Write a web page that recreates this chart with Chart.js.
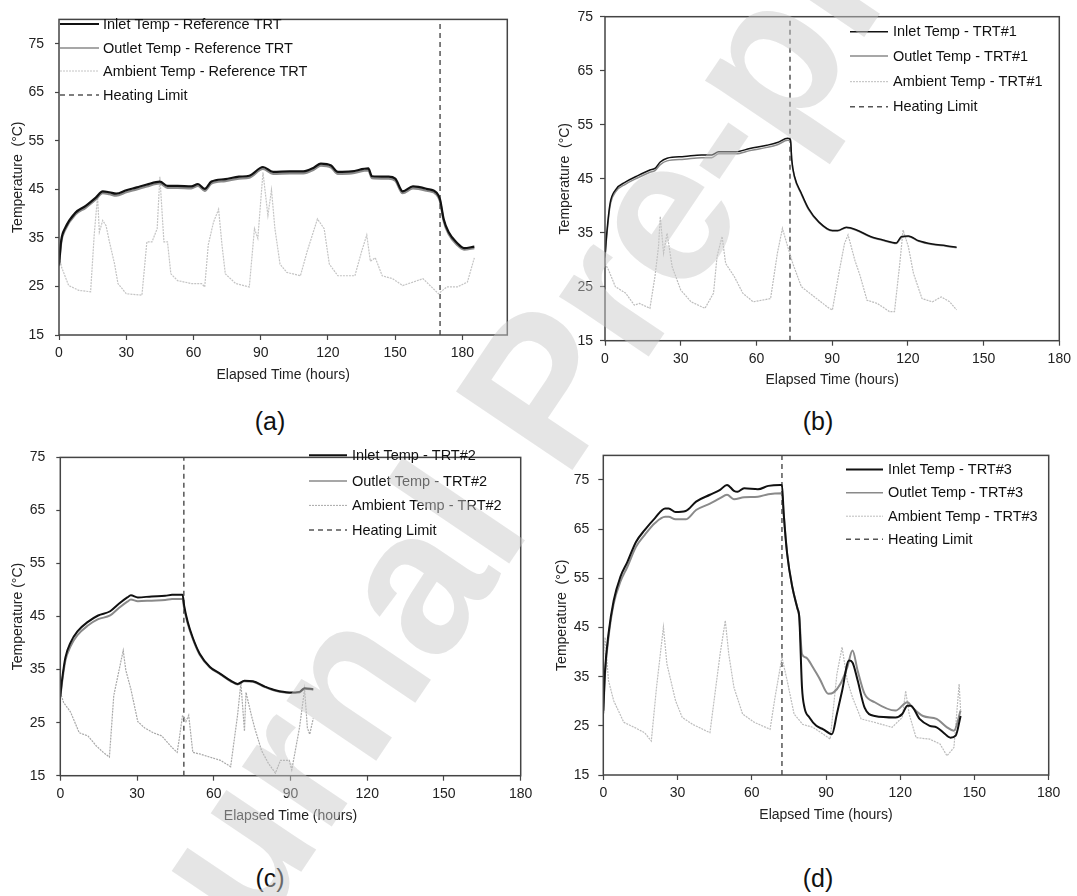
<!DOCTYPE html>
<html>
<head>
<meta charset="utf-8">
<script src="https://cdn.jsdelivr.net/npm/chart.js@4.4.1/dist/chart.umd.min.js"></script>
<style>
  body { margin: 0; background: #fff; width: 1077px; height: 896px; position: relative; overflow: hidden;
         font-family: "Liberation Sans", Arial, sans-serif; }
  canvas { position: absolute; }
  .cap { position: absolute; width: 60px; text-align: center; font-size: 25px; color: #111; line-height: 29px; }
  #wm { position: absolute; left: 0; top: 0; pointer-events: none; }
</style>
</head>
<body>
<canvas id="chartA" width="538" height="400" style="left:0;top:0"></canvas>
<canvas id="chartB" width="539" height="400" style="left:538px;top:0"></canvas>
<canvas id="chartC" width="538" height="400" style="left:0;top:438px"></canvas>
<canvas id="chartD" width="539" height="400" style="left:538px;top:438px"></canvas>
<div class="cap" style="left:240px;top:407px">(a)</div>
<div class="cap" style="left:788px;top:407px">(b)</div>
<div class="cap" style="left:240px;top:864px">(c)</div>
<div class="cap" style="left:788px;top:864px">(d)</div>
<svg id="wm" width="1077" height="896">
  <text x="121" y="1139" transform="rotate(-56 121 1139)" font-family="Liberation Sans, Arial, sans-serif"
        font-weight="bold" font-size="204" fill="rgb(200,200,200)" fill-opacity="0.48">Journal Pre-proof</text>
</svg>
<script>
// tick labels shared by every panel
const xTickValues = [0, 30, 60, 90, 120, 150, 180];
const yTickValues = [15, 25, 35, 45, 55, 65, 75];
const heatingLimitHours = [170, 73.3, 48.3, 72.2];

// (a) Reference TRT
const aTime = [0, 1, 2.7, 7.3, 11.9, 16.4, 19.5, 22.5, 25.5, 30, 34.7, 39.2, 45, 48.4, 52.9, 59, 62, 65, 68, 74.2, 80.3, 84.9, 91, 95.5, 103, 109, 113.8, 116.8, 121.4, 124.4, 130.5, 138, 139.6, 147, 150, 153.3, 157.9, 164, 168.5, 170, 171.6, 173.8, 177.7, 180.7, 185.3];
const aInlet = [29.5, 34.5, 37, 40.2, 41.6, 43.3, 44.6, 44.4, 44.1, 44.8, 45.4, 46, 46.6, 45.7, 45.7, 45.6, 46.1, 45.1, 46.6, 47.1, 47.6, 47.8, 49.6, 48.6, 48.7, 48.7, 49.5, 50.3, 49.9, 48.6, 48.7, 49.3, 47.7, 47.6, 47.2, 44.6, 45.6, 45.1, 44.3, 42.9, 38.9, 36.2, 33.9, 32.9, 33.2];
const aOutlet = [29.2, 34.1, 36.6, 39.8, 41.2, 42.9, 44.2, 44.0, 43.7, 44.4, 45.0, 45.6, 46.2, 45.3, 45.3, 45.2, 45.7, 44.7, 46.2, 46.7, 47.2, 47.4, 49.2, 48.2, 48.3, 48.3, 49.1, 49.9, 49.5, 48.2, 48.3, 48.9, 47.3, 47.2, 46.8, 44.2, 45.2, 44.7, 43.9, 42.5, 38.5, 35.8, 33.5, 32.6, 32.9];
const aAmbTime = [0, 1.2, 4.3, 8.8, 14.1, 15.7, 17.2, 18, 19.5, 21, 22.5, 24.8, 26.3, 30, 37, 39.2, 41.5, 43.8, 45, 46.8, 48.4, 49.9, 52.9, 59, 63.6, 65, 66.6, 68.9, 71.2, 72.7, 74.2, 78.8, 84.9, 87.2, 88.7, 91, 93.2, 94.8, 96.3, 98.6, 101.6, 107.7, 110.7, 115.3, 118.3, 120.6, 124.4, 132, 135, 137.3, 138.9, 141.1, 144.2, 148.8, 153.3, 158, 162.4, 165.5, 169.3, 173, 177.7, 182.2, 185.3];
const aAmbient = [31.5, 28.9, 25.2, 24.2, 23.9, 35.6, 43.6, 36.2, 38.6, 37.5, 34.2, 29.6, 25.6, 23.5, 23.2, 34.2, 34.2, 36.9, 47.6, 34.2, 34.2, 27.6, 26.2, 25.6, 25.6, 24.9, 33.6, 38.2, 40.9, 33.6, 27.6, 25.6, 24.9, 36.9, 34.9, 48.5, 39.6, 44.9, 37.0, 29.6, 27.9, 27.2, 32.2, 38.9, 36.9, 29.6, 27.2, 27.2, 32.2, 35.6, 30.2, 30.9, 27.2, 26.6, 25.2, 25.9, 26.6, 25.2, 23.5, 24.9, 24.9, 25.9, 30.9];
const aLabels = ["Inlet Temp - Reference TRT", "Outlet Temp - Reference TRT", "Ambient Temp - Reference TRT", "Heating Limit"];

// (b) TRT#1
const bTime = [0, 0.7, 2, 4.1, 8.2, 12.3, 17.8, 19.8, 21.9, 24.6, 31.4, 38.2, 42.3, 45, 51.9, 57.4, 64.2, 68.3, 72.4, 73.5, 74, 75.1, 77.8, 80.6, 84.7, 90.1, 92.2, 95.6, 99.7, 105.2, 110.6, 115.4, 117.5, 120.2, 124.3, 129.7, 135.2, 139.3];
const bInlet = [30.6, 34.9, 40.4, 42.9, 44.4, 45.4, 46.6, 46.9, 48.1, 48.8, 49.1, 49.4, 49.4, 50, 50, 50.6, 51.2, 51.7, 52.5, 52.2, 48.5, 45.4, 42.3, 39.5, 37, 35.4, 35.4, 36, 35.5, 34.3, 33.6, 33.1, 34.3, 34.4, 33.5, 32.9, 32.6, 32.3];
const bOutlet = [30.3, 34.4, 39.9, 42.5, 44.0, 45.0, 46.2, 46.5, 47.6, 48.3, 48.6, 48.9, 48.9, 49.6, 49.6, 50.2, 50.8, 51.3, 52.1, 51.9, 48.3, 45.2, 42.1, 39.3, 36.9, 35.3, 35.3, 35.9, 35.4, 34.2, 33.5, 33.0, 34.1, 34.3, 33.4, 32.8, 32.5, 32.2];
const bAmbTime = [0, 1.4, 4.1, 8.2, 11.6, 13.7, 17.8, 19.8, 21.2, 21.9, 23.2, 24.6, 26.6, 30, 34.1, 39.6, 43, 44.4, 46.4, 47.8, 51.2, 54.6, 58.7, 65.6, 68.3, 70.3, 72.4, 74.4, 77.8, 81.9, 88.8, 90.1, 92.9, 94.9, 96.3, 99, 101.1, 103.8, 107.9, 112.7, 114.7, 116.8, 118.1, 120.2, 122.2, 125.6, 129.7, 133.2, 136.6, 139.3];
const bAmbient = [29.3, 28.1, 25, 23.8, 21.6, 21.9, 21, 26.9, 32.4, 38, 31.2, 34.9, 28.7, 24.4, 22.2, 21, 23.8, 30.6, 34.3, 29.3, 26.9, 23.8, 22.2, 22.8, 31.2, 35.8, 32.4, 29.3, 25, 23.5, 21, 20.7, 28.1, 33, 34.6, 29.9, 27, 22.5, 21.9, 20.4, 20.4, 29.3, 35.5, 32.4, 27.5, 22.8, 22.2, 23.1, 22.2, 20.7];
const bLabels = ["Inlet Temp - TRT#1", "Outlet Temp - TRT#1", "Ambient Temp - TRT#1", "Heating Limit"];

// (c) TRT#2
const cTime = [0, 0.7, 2, 4, 6.7, 10.8, 14.8, 19.5, 22.9, 26.2, 27.6, 30.3, 35.7, 41, 43.7, 47.8, 48.4, 49.8, 51.8, 54.5, 58.5, 62.6, 66.6, 69.3, 72, 75.3, 80, 84.1, 89.5, 93.5, 95.5, 98.9];
const cInlet = [30, 33.1, 37.3, 40.1, 42.2, 44, 45.2, 46, 47.4, 48.6, 49, 48.6, 48.8, 48.9, 49.1, 49.1, 47.1, 44, 41, 38, 35.5, 34.2, 32.9, 32.3, 32.9, 32.8, 31.8, 31.1, 30.7, 30.8, 31.5, 31.3];
const cOutlet = [29.7, 32.6, 36.7, 39.4, 41.5, 43.3, 44.5, 45.2, 46.6, 47.8, 48.2, 47.9, 48.0, 48.1, 48.3, 48.3, 46.6, 43.7, 40.8, 37.8, 35.4, 34.1, 32.8, 32.2, 32.8, 32.7, 31.7, 31.0, 30.6, 30.7, 31.4, 31.2];
const cAmbTime = [0, 1.3, 4, 7.4, 10.8, 14.1, 16.8, 19.2, 20.9, 23.5, 24.6, 25.6, 27.6, 30.3, 33, 36.3, 39.7, 43.7, 45.7, 46.4, 47.8, 49.1, 50.2, 51.8, 54.5, 58.5, 62.6, 66.6, 69.3, 70.6, 72, 72.6, 74.7, 76, 78.7, 81.4, 84.1, 86.1, 89.5, 90.5, 93.5, 95.5, 96.6, 97.5, 98.9];
const cAmbient = [30.7, 28.8, 27, 23.1, 22.5, 20.6, 19.4, 18.5, 30.1, 36.1, 38.6, 34.9, 31.3, 25.2, 24, 23.1, 22.5, 20.3, 19.4, 21.6, 26.4, 25.2, 26.4, 19.4, 19.1, 18.5, 17.9, 16.7, 26.4, 32.5, 23.4, 30.7, 26.4, 24, 19.7, 17.3, 15.5, 17.9, 17.9, 16.1, 24, 31.3, 24, 22.8, 25.8];
const cLabels = ["Inlet Temp - TRT#2", "Outlet Temp - TRT#2", "Ambient Temp - TRT#2", "Heating Limit"];

// (d) TRT#3
const dInTime = [0, 0.7, 2.1, 4.2, 6.9, 9.7, 13.2, 16.7, 20.8, 25, 26.4, 29.2, 33.3, 37.5, 43.1, 47.2, 50, 52.8, 54.2, 56.9, 62.5, 66.7, 71.5, 72.2, 72.9, 74.3, 76.4, 78.5, 79.2, 80.3, 81.3, 83.3, 86.1, 88.9, 92.4, 94.4, 96.5, 99.3, 100.7, 102.8, 105.6, 109.7, 118.1, 120.8, 122.9, 124.3, 127.8, 131.9, 134.7, 137.5, 140.3, 142.4, 144.4];
const dInlet = [28.1, 36.2, 43.7, 50.5, 55.3, 58.3, 62.4, 64.8, 67.2, 69.2, 69.2, 68.5, 68.7, 70.6, 72, 73, 74, 72.8, 72.6, 73.3, 73.1, 73.8, 74, 74, 68.2, 60, 53.2, 48.8, 47.1, 32.8, 28.7, 26.7, 25, 24.3, 23.3, 27.4, 32.1, 38.3, 37.9, 34.2, 28.7, 27, 26.7, 27.4, 29.1, 29.1, 26.4, 25, 24.7, 23.6, 22.6, 23, 27];
const dOutTime = [0, 0.7, 2.1, 4.2, 6.9, 9.7, 13.2, 16.7, 20.8, 25, 26.4, 29.2, 33.3, 37.5, 43.1, 47.2, 50, 52.8, 56.9, 62.5, 66.7, 72.2, 72.9, 74.3, 76.4, 78.5, 79.2, 80.3, 81.9, 84.7, 87.5, 91, 93.1, 95.8, 98.6, 100.7, 102.8, 105.6, 109.7, 118.1, 122.9, 125, 129.2, 134.7, 138.9, 141.7, 144.4];
const dOutlet = [27.5, 35.5, 43, 49.8, 54.3, 57.3, 61.4, 63.8, 66.2, 67.5, 67.5, 67, 67, 68.9, 70.2, 71.3, 72, 71.1, 71.5, 71.6, 72.1, 72.3, 68.2, 60, 53.2, 48.8, 47.1, 39.6, 38.9, 36.9, 34.5, 31.5, 31.8, 33.5, 36.9, 40.3, 36.2, 31.5, 29.8, 28.1, 29.8, 28.7, 27, 26.4, 24.7, 24, 28.1];
const dAmbTime = [0, 0.7, 2.1, 4.2, 8.3, 12.5, 16.7, 19.4, 21.5, 24.3, 25.7, 29.2, 31.9, 36.1, 43.1, 44.4, 47.2, 49.3, 50.7, 52.8, 56.3, 61.1, 67.4, 69.4, 72.2, 74.3, 77.1, 80.6, 84.7, 88.9, 91.7, 94.4, 96.5, 98.6, 100.7, 104.2, 109.7, 116.7, 120.8, 122.2, 123.6, 126.4, 131.9, 136.1, 138.9, 141.7, 143.8, 144.4];
const dAmbient = [38.3, 43, 34.2, 30.1, 25.7, 24.7, 23.6, 21.9, 32.8, 45.1, 37.6, 30.1, 26.7, 25.3, 23.6, 28.7, 39.6, 46.4, 39.6, 32.8, 27.4, 25.7, 24.3, 30.8, 38.9, 34.2, 27.4, 25.3, 24.7, 23.3, 22.3, 35.5, 41, 34.2, 30.8, 26.4, 25.7, 24.7, 26.7, 32.1, 27.4, 22.6, 22.3, 21.3, 18.9, 20.6, 33.5, 28.1];
const dLabels = ["Inlet Temp - TRT#3", "Outlet Temp - TRT#3", "Ambient Temp - TRT#3", "Heating Limit"];

const FONT = '"Liberation Sans", Arial, sans-serif';

function pts(xs, ys) {
  return xs.map((x, i) => ({ x: x, y: ys[i] }));
}

function makePanel(p) {
  const ctxEl = document.getElementById(p.id);
  // frame round the plot + legend drawn inside the plot area
  const framePlugin = {
    id: 'frameLegend',
    afterDatasetsDraw(chart) {
      const ctx = chart.ctx, a = chart.chartArea;
      ctx.save();
      ctx.strokeStyle = '#444';
      ctx.lineWidth = 1.5;
      ctx.strokeRect(a.left, a.top, a.right - a.left, a.bottom - a.top);
      ctx.font = '14.5px ' + FONT;
      ctx.textBaseline = 'middle';
      ctx.textAlign = 'left';
      chart.data.datasets.forEach((ds, i) => {
        const y = p.legend.rows[i] - p.top;
        ctx.beginPath();
        ctx.setLineDash(ds.borderDash || []);
        ctx.strokeStyle = ds.borderColor;
        ctx.lineWidth = ds.legendWidth || ds.borderWidth;
        ctx.moveTo(p.legend.x0 - p.left, y);
        ctx.lineTo(p.legend.x1 - p.left, y);
        ctx.stroke();
        ctx.fillStyle = '#111';
        ctx.fillText(ds.label, p.legend.tx - p.left, y + 0.5);
      });
      ctx.restore();
    }
  };

  return new Chart(ctxEl, {
    type: 'scatter',
    data: {
      datasets: [
        { label: p.labels[0], data: pts(p.inT, p.inlet), showLine: true, borderColor: '#111', borderWidth: p.lw,
          pointRadius: 0, cubicInterpolationMode: 'monotone' },
        { label: p.labels[1], data: pts(p.outT, p.outlet), showLine: true, borderColor: '#8a8a8a', borderWidth: p.lw,
          legendWidth: 1.5, pointRadius: 0, cubicInterpolationMode: 'monotone' },
        { label: p.labels[2], data: pts(p.ambT, p.ambient), showLine: true, borderColor: p.ambColor, borderWidth: 1.2,
          legendWidth: 1, borderDash: [2, 1], pointRadius: 0, tension: 0 },
        { label: p.labels[3], data: [{ x: p.heat, y: 15 }, { x: p.heat, y: p.yMax }], showLine: true,
          borderColor: '#555', borderWidth: 1.5, borderDash: [5, 4], pointRadius: 0 }
      ]
    },
    options: {
      responsive: false,
      animation: false,
      devicePixelRatio: 1,
      layout: { padding: { left: 0, top: p.padTop, right: p.padRight, bottom: 0 } },
      plugins: { legend: { display: false }, tooltip: { enabled: false } },
      scales: {
        x: {
          type: 'linear', min: 0, max: p.xMax,
          afterBuildTicks: s => { s.ticks = xTickValues.map(v => ({ value: v })); },
          afterFit: s => { s.height = p.xAxisH; },
          grid: { display: true, drawOnChartArea: false, drawTicks: true, tickLength: 5, tickColor: '#444', tickWidth: 1.2 },
          border: { display: false },
          ticks: { padding: 5, color: '#222', font: { size: 14, family: FONT }, maxRotation: 0, autoSkip: false },
          title: { display: true, text: 'Elapsed Time (hours)', color: '#222', font: { size: 14, family: FONT },
                   padding: { top: 0, bottom: p.xTitlePad } }
        },
        y: {
          type: 'linear', min: 15, max: p.yMax,
          afterBuildTicks: s => { s.ticks = yTickValues.map(v => ({ value: v })); },
          afterFit: s => { s.width = p.yAxisW; },
          grid: { display: true, drawOnChartArea: false, drawTicks: true, tickLength: p.yTickLen, tickColor: '#444', tickWidth: 1.2 },
          border: { display: false },
          ticks: { padding: p.yTickPad, color: '#222', font: { size: 14, family: FONT }, autoSkip: false },
          title: { display: true, text: p.yTitle, color: '#222', font: { size: 14, family: FONT },
                   padding: { top: p.yTitlePad, bottom: 0 } }
        }
      }
    },
    plugins: [framePlugin]
  });
}

makePanel({ id: 'chartA', left: 0, top: 0, labels: aLabels,
  inT: aTime, inlet: aInlet, outT: aTime, outlet: aOutlet, ambT: aAmbTime, ambient: aAmbient,
  heat: heatingLimitHours[0], xMax: 200, yMax: 80, lw: 2.2, ambColor: '#c4c4c4',
  padTop: 12, padRight: 30.7, xAxisH: 65, yAxisW: 59, xTitlePad: 16.6, yTitlePad: 10.1, yTickLen: 4, yTickPad: 11,
  yTitle: 'Temperature  (°C)',
  legend: { x0: 60, x1: 99, tx: 103, rows: [24, 48, 71, 95] } });

makePanel({ id: 'chartB', left: 538, top: 0, labels: bLabels,
  inT: bTime, inlet: bInlet, outT: bTime, outlet: bOutlet, ambT: bAmbTime, ambient: bAmbient,
  heat: heatingLimitHours[1], xMax: 180, yMax: 75, lw: 1.5, ambColor: '#bdbdbd',
  padTop: 16.7, padRight: 17.7, xAxisH: 59.3, yAxisW: 67, xTitlePad: 11.6, yTitlePad: 18.9, yTickLen: 5, yTickPad: 7,
  yTitle: 'Temperature  (°C)',
  legend: { x0: 850, x1: 888, tx: 893, rows: [31.7, 56, 81.7, 106.7] } });

makePanel({ id: 'chartC', left: 0, top: 438, labels: cLabels,
  inT: cTime, inlet: cInlet, outT: cTime, outlet: cOutlet, ambT: cAmbTime, ambient: cAmbient,
  heat: heatingLimitHours[2], xMax: 180, yMax: 75, lw: 2, ambColor: '#a8a8a8',
  padTop: 8, padRight: 17.3, xAxisH: 62.3, yAxisW: 60.3, xTitlePad: 13.2, yTitlePad: 9.9, yTickLen: 4, yTickPad: 11,
  yTitle: 'Temperature (°C)',
  legend: { x0: 309, x1: 347, tx: 352, rows: [455.3, 481, 505.4, 530.1] } });

makePanel({ id: 'chartD', left: 538, top: 438, labels: dLabels,
  inT: dInTime, inlet: dInlet, outT: dOutTime, outlet: dOutlet, ambT: dAmbTime, ambient: dAmbient,
  heat: heatingLimitHours[3], xMax: 180, yMax: 80, lw: 2, ambColor: '#bdbdbd',
  padTop: 17, padRight: 28.3, xAxisH: 63, yAxisW: 65.3, xTitlePad: 14.5, yTitlePad: 15.6, yTickLen: 5, yTickPad: 9,
  yTitle: 'Temperature  (°C)',
  legend: { x0: 846, x1: 883, tx: 888, rows: [469.4, 492.8, 516.2, 539.3] } });
</script>
</body>
</html>
